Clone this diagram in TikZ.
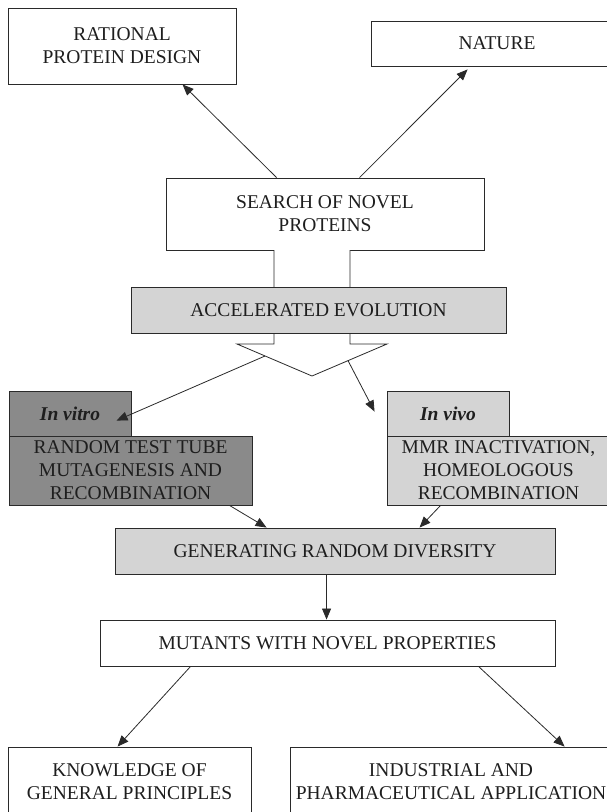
\documentclass[tikz,border=0pt]{standalone}
\usepackage{fontspec}
\setmainfont{Liberation Serif}
\usetikzlibrary{arrows.meta,calc}
\definecolor{linecol}{HTML}{2A2A2A}
\definecolor{darkfill}{HTML}{8A8A8A}
\definecolor{lightfill}{HTML}{D4D4D4}
\definecolor{textcol}{HTML}{1E1E1E}
\tikzset{
  box/.style={draw=linecol, line width=0.9pt, inner sep=0pt, align=center, text=textcol,
    font=\fontsize{19.5}{23}\selectfont},
  conn/.style={draw=linecol, line width=0.8pt, -{Triangle[length=11pt,width=9pt]}},
  plain/.style={draw=linecol, line width=0.8pt},
}
\begin{document}
\begin{tikzpicture}[x=1pt,y=-1pt]
\useasboundingbox (0,0) rectangle (607,812);
% top boxes
\node[box, minimum width=228, minimum height=76] (rational) at (122,46) {RATIONAL\\PROTEIN DESIGN};
\node[box, minimum width=252, minimum height=45] (nature) at (497,43.5) {NATURE};
\node[box, minimum width=318, minimum height=72] (search) at (325,214) {SEARCH OF NOVEL\\PROTEINS};
% block arrow (drawn before accelerated box)
\coordinate (sl) at (274,250);
\coordinate (sr) at (350,250);
\coordinate (wl) at (237,344);
\coordinate (wr) at (387,344);
\coordinate (pt) at (312,376);
\draw[plain, fill=white, line join=miter] (sl) -- (274,344) -- (wl) -- (pt) -- (wr) -- (350,344) -- (sr);
\node[box, fill=lightfill, minimum width=375, minimum height=46] (accel) at (318.5,310) {ACCELERATED EVOLUTION};
% in vitro / in vivo
\node[box, fill=darkfill, minimum width=122, minimum height=45] (vitrotab) at (70,413.5) {\textbf{\textit{In vitro}}};
\node[box, fill=darkfill, minimum width=243, minimum height=69] (vitro) at (130.5,470.5) {RANDOM TEST TUBE\\MUTAGENESIS AND\\RECOMBINATION};
\node[box, fill=lightfill, minimum width=122, minimum height=45] (vivotab) at (448,413.5) {\textbf{\textit{In vivo}}};
\node[box, fill=lightfill, minimum width=223, minimum height=69] (vivo) at (498.5,470.5) {MMR INACTIVATION,\\HOMEOLOGOUS\\RECOMBINATION};
\node[box, fill=lightfill, minimum width=440, minimum height=46] (gen) at (335,551) {GENERATING RANDOM DIVERSITY};
\node[box, minimum width=455, minimum height=46] (mutants) at (327.5,643) {MUTANTS WITH NOVEL PROPERTIES};
\node[box, minimum width=243, minimum height=70] (know) at (129.5,782) {KNOWLEDGE OF\\GENERAL PRINCIPLES};
\node[box, minimum width=322, minimum height=70] (indus) at (451,782) {INDUSTRIAL AND\\PHARMACEUTICAL APPLICATION};
% connectors
\draw[conn] ($(search.north west)+(111,0)$) -- ($(rational.south west)+(175,0)$);
\draw[conn] ($(search.north west)+(194,0)$) -- ($(nature.south west)+(97,3)$);
\coordinate (hl) at (265,356);
\coordinate (hr) at (348,360.6);
\draw[conn] (hl) -- ($(vitrotab.north west)+(108,30)$);
\draw[conn] (hr) -- ($(vivotab.north west)+(-12,21)$);
\draw[conn] ($(vitro.south west)+(221,0)$) -- ($(gen.north west)+(152,0)$);
\draw[conn] ($(vivo.south west)+(54,0)$) -- ($(gen.north west)+(305,0)$);
\draw[conn] ($(gen.south west)+(212,0)$) -- ($(mutants.north west)+(227,0)$);
\draw[conn] ($(mutants.south west)+(91,0)$) -- ($(know.north west)+(110,0)$);
\draw[conn] ($(mutants.south west)+(379,0)$) -- ($(indus.north west)+(275,0)$);
\end{tikzpicture}
\end{document}
